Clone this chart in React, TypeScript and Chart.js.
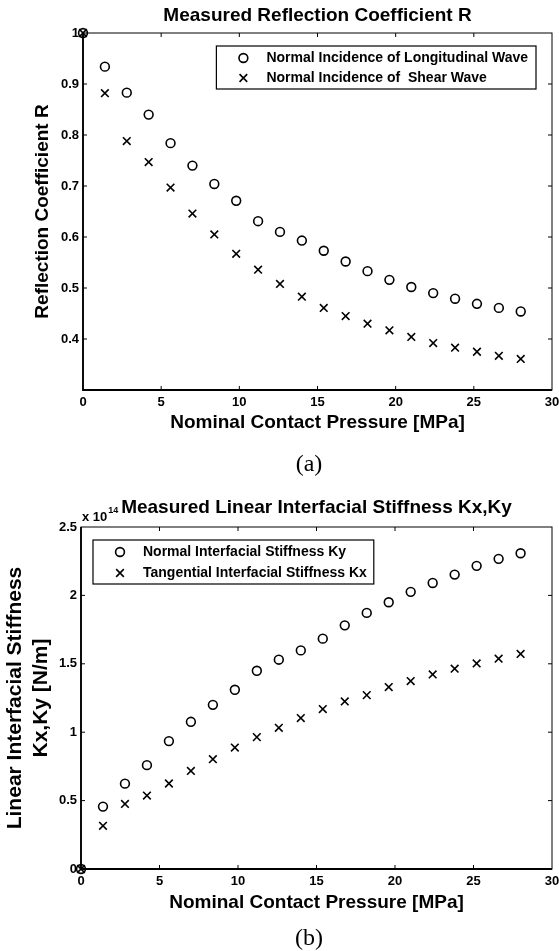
import React, { useEffect, useRef } from 'react';
import { Chart, registerables } from 'chart.js';

Chart.register(...registerables);

// ---------- data ----------
const pressureMPa = [0, 1.4, 2.8, 4.2, 5.6, 7.0, 8.4, 9.8, 11.2, 12.6, 14.0, 15.4, 16.8, 18.2, 19.6, 21.0, 22.4, 23.8, 25.2, 26.6, 28.0];

const reflectionLongitudinal = [1.0, 0.934, 0.883, 0.840, 0.784, 0.740, 0.704, 0.671, 0.631, 0.610, 0.593, 0.573, 0.552, 0.533, 0.516, 0.502, 0.490, 0.479, 0.469, 0.461, 0.454];
const reflectionShear = [1.0, 0.882, 0.788, 0.747, 0.697, 0.646, 0.605, 0.567, 0.536, 0.508, 0.483, 0.461, 0.445, 0.430, 0.417, 0.404, 0.392, 0.383, 0.375, 0.367, 0.361];

// stiffness in units of 1e14 N/m
const stiffnessKyE14 = [0, 0.456, 0.624, 0.759, 0.935, 1.076, 1.200, 1.310, 1.449, 1.530, 1.598, 1.684, 1.781, 1.872, 1.950, 2.026, 2.091, 2.152, 2.216, 2.267, 2.308];
const stiffnessKxE14 = [0, 0.316, 0.476, 0.537, 0.625, 0.717, 0.803, 0.888, 0.964, 1.032, 1.103, 1.169, 1.225, 1.271, 1.330, 1.374, 1.422, 1.464, 1.503, 1.537, 1.572];

const legendA = ['Normal Incidence of Longitudinal Wave', 'Normal Incidence of  Shear Wave'];
const legendB = ['Normal Interfacial Stiffness Ky', 'Tangential Interfacial Stiffness Kx'];

const FAMILY = "'Liberation Sans', Arial, Helvetica, sans-serif";

const fmtTick = (v: number) => String(Math.round(v * 10) / 10);

function drawMarker(ctx: CanvasRenderingContext2D, style: string, x: number, y: number, r: number, lw: number) {
  ctx.save();
  ctx.lineWidth = lw;
  ctx.strokeStyle = '#000';
  ctx.beginPath();
  if (style === 'circle') {
    ctx.arc(x, y, r, 0, Math.PI * 2);
  } else {
    const o = r * Math.SQRT1_2;
    ctx.moveTo(x - o, y - o);
    ctx.lineTo(x + o, y + o);
    ctx.moveTo(x + o, y - o);
    ctx.lineTo(x - o, y + o);
  }
  ctx.stroke();
  ctx.restore();
}

const framePlugin = {
  id: 'matlabFrame',
  afterDraw(chart: any, _args: any, opts: any) {
    const { ctx, chartArea: a, scales } = chart;
    ctx.save();
    ctx.strokeStyle = '#000';
    ctx.lineWidth = 1;
    ctx.strokeRect(a.left, a.top, a.right - a.left, a.bottom - a.top);
    // inward tick marks on all four sides
    const L = 4;
    ctx.beginPath();
    scales.x.ticks.forEach((t: any) => {
      const px = scales.x.getPixelForValue(t.value);
      if (px <= a.left + 1 || px >= a.right - 1) return;
      ctx.moveTo(px, a.bottom);
      ctx.lineTo(px, a.bottom - L);
      ctx.moveTo(px, a.top);
      ctx.lineTo(px, a.top + L);
    });
    scales.y.ticks.forEach((t: any) => {
      const py = scales.y.getPixelForValue(t.value);
      if (py <= a.top + 1 || py >= a.bottom - 1) return;
      ctx.moveTo(a.left, py);
      ctx.lineTo(a.left + L, py);
      ctx.moveTo(a.right, py);
      ctx.lineTo(a.right - L, py);
    });
    ctx.stroke();
    // heavier left / bottom axis lines
    ctx.lineWidth = 1.8;
    ctx.beginPath();
    ctx.moveTo(a.left, a.top);
    ctx.lineTo(a.left, a.bottom);
    ctx.lineTo(a.right, a.bottom);
    ctx.stroke();

    // legend box
    const ds = chart.data.datasets;
    ctx.font = `bold 14px ${FAMILY}`;
    ctx.fillStyle = '#000';
    const maxW = Math.max(...ds.map((d: any) => ctx.measureText(d.label).width));
    const w = 50 + maxW + opts.legendPadRight;
    const h = opts.legendHeight;
    const left = opts.legendSide === 'right' ? a.right - opts.legendDx - w : a.left + opts.legendDx;
    const top = a.top + opts.legendDy;
    ctx.lineWidth = 1.2;
    ctx.strokeRect(left, top, w, h);
    ctx.textBaseline = 'middle';
    ctx.textAlign = 'left';
    ds.forEach((d: any, i: number) => {
      const ry = top + opts.legendRows[i];
      drawMarker(ctx, d.pointStyle, left + 27, ry, d.pointRadius, d.pointBorderWidth);
      ctx.fillText(d.label, left + 50, ry);
    });

    // exponent label
    if (opts.exponent) {
      ctx.textAlign = 'left';
      ctx.textBaseline = 'middle';
      ctx.font = `bold 13px ${FAMILY}`;
      const base = 'x 10';
      ctx.fillText(base, a.left + 1, a.top - 10);
      const bw = ctx.measureText(base).width;
      ctx.font = `bold 9px ${FAMILY}`;
      ctx.fillText(opts.exponent, a.left + 1 + bw + 1, a.top - 16);
    }
    ctx.restore();
  },
};

interface Cfg {
  title: string;
  yTitle: string | string[];
  yTitleSize: number;
  yTitleLineHeight: number;
  yTitlePadTop: number;
  yMin: number;
  yMax: number;
  yStep: number;
  hideBelow: number;
  series: number[][];
  labels: string[];
  yWidth: number;
  xHeight: number;
  xTitlePadBottom: number;
  titlePad: { top: number; bottom: number };
  padRight: number;
  frame: any;
}

function makeConfig(c: Cfg): any {
  const tickFont = { family: FAMILY, size: 13, weight: 'bold' as const };
  const titleFont = { family: FAMILY, size: 19, weight: 'bold' as const, lineHeight: 1.2 };
  const styles = ['circle', 'crossRot'];
  return {
    type: 'scatter',
    data: {
      datasets: c.series.map((s, i) => ({
        label: c.labels[i],
        data: pressureMPa.map((x, j) => ({ x, y: s[j] })),
        showLine: false,
        pointStyle: styles[i],
        pointRadius: i === 0 ? 4.4 : 5.4,
        pointBorderWidth: 1.6,
        pointBorderColor: '#000',
        pointBackgroundColor: 'rgba(0,0,0,0)',
        clip: false,
      })),
    },
    options: {
      animation: false,
      responsive: false,
      events: [],
      layout: { padding: { left: 0, right: c.padRight, top: 0, bottom: 0 } },
      plugins: {
        legend: { display: false },
        tooltip: { enabled: false },
        title: {
          display: true,
          text: c.title,
          color: '#000',
          font: titleFont,
          padding: c.titlePad,
          fullSize: false,
        },
        matlabFrame: c.frame,
      },
      scales: {
        x: {
          type: 'linear',
          min: 0,
          max: 30,
          ticks: { stepSize: 5, padding: 5, font: tickFont, color: '#000', maxRotation: 0, autoSkip: false, callback: (v: number) => fmtTick(v) },
          grid: { display: false, drawTicks: false },
          border: { display: false },
          title: {
            display: true,
            text: 'Nominal Contact Pressure [MPa]',
            color: '#000',
            font: titleFont,
            padding: { top: 0, bottom: c.xTitlePadBottom },
          },
          afterFit: (s: any) => {
            s.height = c.xHeight;
            s.paddingLeft = 0;
            s.paddingRight = 0;
          },
        },
        y: {
          type: 'linear',
          min: c.yMin,
          max: c.yMax,
          ticks: {
            stepSize: c.yStep,
            padding: 4,
            font: tickFont,
            color: '#000',
            autoSkip: false,
            callback: (v: number) => (v < c.hideBelow ? '' : fmtTick(v)),
          },
          grid: { display: false, drawTicks: false },
          border: { display: false },
          title: {
            display: true,
            text: c.yTitle,
            color: '#000',
            font: { family: FAMILY, size: c.yTitleSize, weight: 'bold', lineHeight: c.yTitleLineHeight },
            padding: { top: c.yTitlePadTop, bottom: 0 },
          },
          afterFit: (s: any) => {
            s.width = c.yWidth;
            s.paddingTop = 0;
            s.paddingBottom = 0;
          },
        },
      },
    },
    plugins: [framePlugin],
  };
}

export default function App() {
  const refA = useRef<HTMLCanvasElement>(null);
  const refB = useRef<HTMLCanvasElement>(null);

  useEffect(() => {
    const chartA = new Chart(
      refA.current as HTMLCanvasElement,
      makeConfig({
        title: 'Measured Reflection Coefficient R',
        yTitle: 'Reflection Coefficient R',
        yTitleSize: 19,
        yTitleLineHeight: 1.2,
        yTitlePadTop: 31.6,
        yMin: 0.3,
        yMax: 1.0,
        yStep: 0.1,
        hideBelow: 0.35,
        series: [reflectionLongitudinal, reflectionShear],
        labels: legendA,
        yWidth: 83,
        xHeight: 86,
        xTitlePadBottom: 41.6,
        titlePad: { top: 4.6, bottom: 5.6 },
        padRight: 5,
        frame: { legendSide: 'right', legendDx: 16, legendDy: 13, legendHeight: 43, legendRows: [12, 32], legendPadRight: 8, exponent: null },
      })
    );
    const chartB = new Chart(
      refB.current as HTMLCanvasElement,
      makeConfig({
        title: 'Measured Linear Interfacial Stiffness Kx,Ky',
        yTitle: ['Linear Interfacial Stiffness', 'Kx,Ky [N/m]'],
        yTitleSize: 21,
        yTitleLineHeight: 1.238,
        yTitlePadTop: 2.5,
        yMin: 0,
        yMax: 2.5,
        yStep: 0.5,
        hideBelow: -1,
        series: [stiffnessKyE14, stiffnessKxE14],
        labels: legendB,
        yWidth: 81,
        xHeight: 82,
        xTitlePadBottom: 36.6,
        titlePad: { top: 20.6, bottom: 7.6 },
        padRight: 4,
        frame: { legendSide: 'left', legendDx: 12, legendDy: 13, legendHeight: 44, legendRows: [12, 33], legendPadRight: 7, exponent: '14' },
      })
    );
    return () => {
      chartA.destroy();
      chartB.destroy();
    };
  }, []);

  const capStyle: React.CSSProperties = {
    position: 'absolute',
    left: 259,
    width: 100,
    textAlign: 'center',
    font: "24px 'Liberation Serif', 'Times New Roman', serif",
    lineHeight: '24px',
    color: '#000',
  };

  return (
    <div style={{ position: 'absolute', left: 0, top: 0, width: 559, height: 951, background: '#fff', overflow: 'hidden' }}>
      <canvas ref={refA} width={559} height={476} style={{ position: 'absolute', left: 0, top: 0, width: 559, height: 476 }} />
      <canvas ref={refB} width={559} height={475} style={{ position: 'absolute', left: 0, top: 476, width: 559, height: 475 }} />
      <div style={{ ...capStyle, top: 451 }}>(a)</div>
      <div style={{ ...capStyle, top: 925 }}>(b)</div>
    </div>
  );
}
